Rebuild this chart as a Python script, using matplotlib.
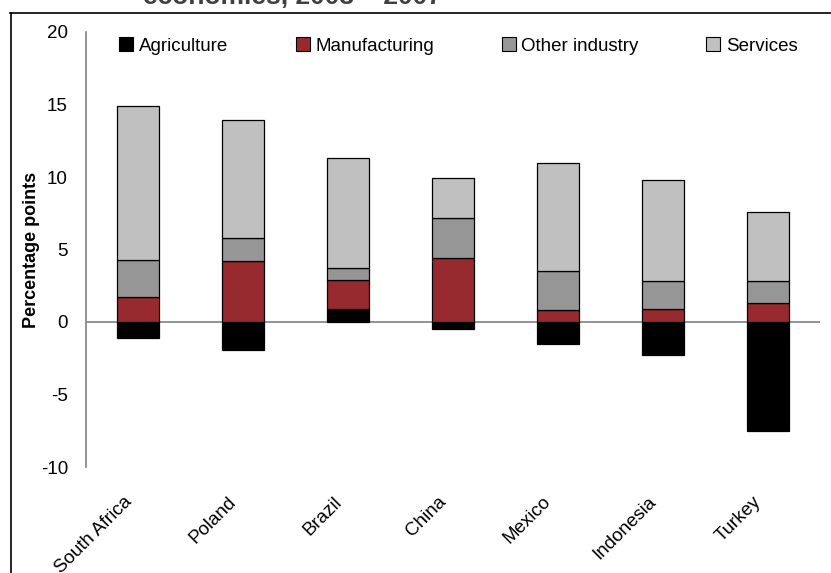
import matplotlib.pyplot as plt
import matplotlib.transforms as mtransforms
from matplotlib.lines import Line2D
from matplotlib.patches import Patch

plt.rcParams["font.family"] = ["Liberation Sans", "DejaVu Sans"]

COUNTRIES = ["South Africa", "Poland", "Brazil", "China", "Mexico", "Indonesia", "Turkey"]
AGRICULTURE = [-1.1, -1.9, 0.9, -0.5, -1.5, -2.3, -7.5]
MANUFACTURING = [1.7, 4.2, 2.0, 4.4, 0.8, 0.9, 1.3]
OTHER_INDUSTRY = [2.6, 1.6, 0.8, 2.8, 2.7, 1.9, 1.5]
SERVICES = [10.6, 8.1, 7.6, 2.7, 7.5, 7.0, 4.8]

SERIES = [
    ("Agriculture", AGRICULTURE, "#000000"),
    ("Manufacturing", MANUFACTURING, "#962a2e"),
    ("Other industry", OTHER_INDUSTRY, "#969696"),
    ("Services", SERVICES, "#c0c0c0"),
]
Y_TICKS = [-10, -5, 0, 5, 10, 15, 20]


def main() -> None:
    fig = plt.figure(figsize=(8.31, 5.73), dpi=100)
    ax = fig.add_axes([86 / 831, 106 / 573, 734 / 831, 435 / 573])

    x = list(range(len(COUNTRIES)))
    pos_base = [0.0] * len(COUNTRIES)
    neg_base = [0.0] * len(COUNTRIES)
    for label, values, color in SERIES:
        bottoms = []
        for i, v in enumerate(values):
            if v >= 0:
                bottoms.append(pos_base[i])
                pos_base[i] += v
            else:
                bottoms.append(neg_base[i])
                neg_base[i] += v
        ax.bar(x, values, bottom=bottoms, width=0.4, color=color,
               edgecolor="#000000", linewidth=0.9, label=label, zorder=2)

    ax.axhline(0, color="#808080", linewidth=1.2, zorder=1)
    ax.set_xlim(-0.5, len(COUNTRIES) - 0.5)
    ax.set_ylim(-10, 20)
    ax.set_yticks(Y_TICKS)
    ax.set_yticklabels([str(t) for t in Y_TICKS], fontsize=13.5)
    ax.tick_params(axis="y", length=0, pad=13)
    ax.set_xticks(x)
    ax.set_xticklabels(COUNTRIES, rotation=45, ha="right", rotation_mode="anchor", fontsize=13.5)
    ax.tick_params(axis="x", length=0, pad=19)
    shift = mtransforms.ScaledTranslation(-11 / 72, 0, fig.dpi_scale_trans)
    for lbl in ax.get_xticklabels():
        lbl.set_transform(lbl.get_transform() + shift)

    ax.set_ylabel("Percentage points", fontsize=13, fontweight="bold")
    ax.yaxis.set_label_coords(-46 / 734, 0.5)

    for side in ["top", "right", "bottom"]:
        ax.spines[side].set_visible(False)
    ax.spines["left"].set_color("#808080")
    ax.spines["left"].set_linewidth(1.2)

    handles = [Patch(facecolor=c, edgecolor="#000000", linewidth=0.8, label=l) for l, _, c in SERIES]
    ax.legend(handles=handles, loc="upper left", bbox_to_anchor=(0.035, 1.005), ncol=4,
              frameon=False, fontsize=13.5, handlelength=0.75, handleheight=0.75,
              handletextpad=0.3, columnspacing=3.6, borderaxespad=0)

    # partially visible title and frame at the top/left
    fig.text(143 / 831, 1 - 4 / 573, "economies, 2003 \u2013 2007", fontsize=19, fontweight="bold",
             color="#404040", va="baseline", ha="left")
    fig.add_artist(Line2D([10 / 831, 1.0], [1 - 13 / 573, 1 - 13 / 573], transform=fig.transFigure,
                          color="#000000", linewidth=1.2))
    fig.add_artist(Line2D([11 / 831, 11 / 831], [0.0, 1 - 13 / 573], transform=fig.transFigure,
                          color="#000000", linewidth=1.2))

    fig.savefig("out.png", dpi=100)
    plt.close(fig)


if __name__ == "__main__":
    main()
